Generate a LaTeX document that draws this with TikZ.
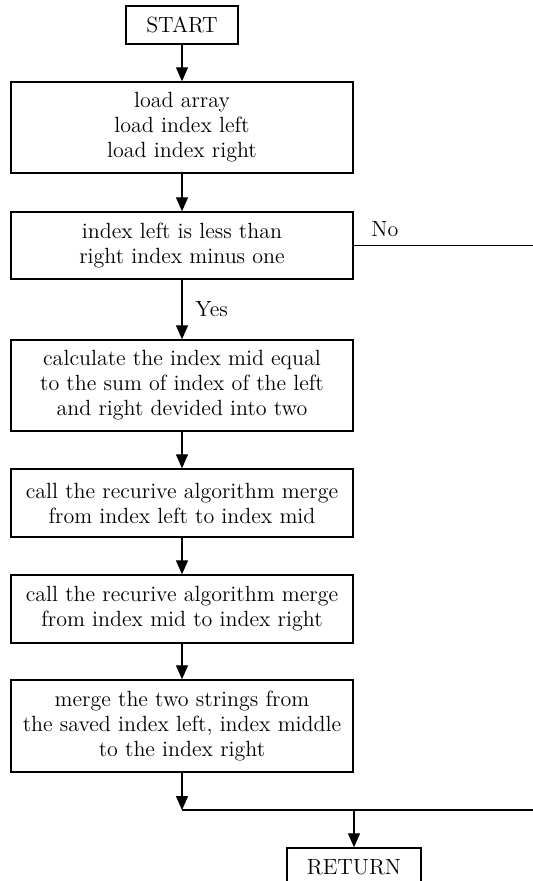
\documentclass[tikz,border=0pt]{standalone}
\usetikzlibrary{arrows.meta}
\begin{document}
\begin{tikzpicture}[x=0.5pt,y=-0.5pt,
  font=\fontsize{11}{12.5}\selectfont,
  box/.style={draw,line width=0.7pt,align=center,inner sep=0pt,minimum width=171pt},
  term/.style={draw,line width=0.7pt,inner sep=0pt,minimum height=19pt},
  conn/.style={line width=0.65pt},
  arr/.style={conn,-{Triangle[length=7pt,width=6pt]}},
  lbl/.style={inner sep=0pt}]
\useasboundingbox (0,0) rectangle (532,881);
\node[term,minimum width=56pt] (start) at (182,25) {START};
\node[box,minimum height=45.5pt] (load) at (182,127.5) {load array\\load index left\\load index right};
\node[box,minimum height=33.5pt] (dec) at (182,245.5) {index left is less than\\right index minus one};
\node[box,minimum height=45.5pt] (calc) at (182,385.5) {calculate the index mid equal\\to the sum of index of the left\\and right devided into two};
\node[box,minimum height=34pt] (callA) at (182,503) {call the recurive algorithm merge\\from index left to index mid};
\node[box,minimum height=34pt] (callB) at (182,609) {call the recurive algorithm merge\\from index mid to index right};
\node[box,minimum height=46pt] (merge) at (182,726) {merge the two strings from\\the saved index left, index middle\\to the index right};
\node[term,minimum width=67pt] (ret) at (354,867) {RETURN};
\coordinate (join) at (182,810);
\coordinate (edgeTop) at (535,245.5);
\coordinate (edgeBot) at (535,810);
\draw[arr] (start) -- (load);
\draw[arr] (load) -- (dec);
\draw[arr] (dec) -- (calc);
\draw[arr] (calc) -- (callA);
\draw[arr] (callA) -- (callB);
\draw[arr] (callB) -- (merge);
\draw[arr] (merge.south) -- (join);
\draw[conn] (dec.east) -- (edgeTop) -- (edgeBot) -- (join);
\draw[arr] (ret.north |- join) -- (ret.north);
\node[lbl,anchor=base west] (yes) at (195,317) {Yes};
\node[lbl,anchor=base west] (no) at (371,237) {No};
\end{tikzpicture}
\end{document}
